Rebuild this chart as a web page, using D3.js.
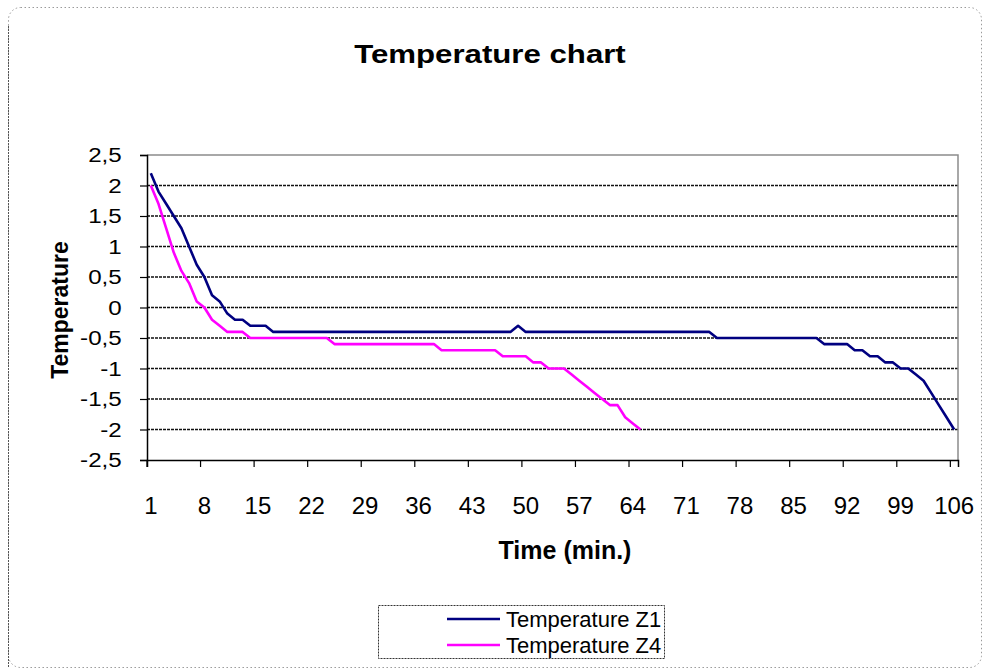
<!DOCTYPE html>
<html>
<head>
<meta charset="utf-8">
<script src="https://cdn.jsdelivr.net/npm/d3@7"></script>
<style>
  body { margin: 0; background: #fff; }
  text { font-family: "Liberation Sans", Arial, sans-serif; fill: #000; }
</style>
</head>
<body>
<div id="viz_div"></div>
<script>
// DATA
// ---------------------------------------------------------------------------------------------------------------------------------
const minutes = d3.range(1, 107);
const xTickLabels = [1, 8, 15, 22, 29, 36, 43, 50, 57, 64, 71, 78, 85, 92, 99, 106];
const yTicks = [-2.5, -2, -1.5, -1, -0.5, 0, 0.5, 1, 1.5, 2, 2.5];

const tempZ1 = [
  2.2, 1.9, 1.7, 1.5, 1.3, 1.0, 0.7, 0.5, 0.2, 0.1,
  -0.1, -0.2, -0.2, -0.3, -0.3, -0.3, -0.4, -0.4, -0.4, -0.4,
  -0.4, -0.4, -0.4, -0.4, -0.4, -0.4, -0.4, -0.4, -0.4, -0.4,
  -0.4, -0.4, -0.4, -0.4, -0.4, -0.4, -0.4, -0.4, -0.4, -0.4,
  -0.4, -0.4, -0.4, -0.4, -0.4, -0.4, -0.4, -0.4, -0.3, -0.4,
  -0.4, -0.4, -0.4, -0.4, -0.4, -0.4, -0.4, -0.4, -0.4, -0.4,
  -0.4, -0.4, -0.4, -0.4, -0.4, -0.4, -0.4, -0.4, -0.4, -0.4,
  -0.4, -0.4, -0.4, -0.4, -0.5, -0.5, -0.5, -0.5, -0.5, -0.5,
  -0.5, -0.5, -0.5, -0.5, -0.5, -0.5, -0.5, -0.5, -0.6, -0.6,
  -0.6, -0.6, -0.7, -0.7, -0.8, -0.8, -0.9, -0.9, -1.0, -1.0,
  -1.1, -1.2, -1.4, -1.6, -1.8, -2.0
];

const tempZ4 = [
  2.0, 1.7, 1.3, 0.9, 0.6, 0.4, 0.1, 0.0, -0.2, -0.3,
  -0.4, -0.4, -0.4, -0.5, -0.5, -0.5, -0.5, -0.5, -0.5, -0.5,
  -0.5, -0.5, -0.5, -0.5, -0.6, -0.6, -0.6, -0.6, -0.6, -0.6,
  -0.6, -0.6, -0.6, -0.6, -0.6, -0.6, -0.6, -0.6, -0.7, -0.7,
  -0.7, -0.7, -0.7, -0.7, -0.7, -0.7, -0.8, -0.8, -0.8, -0.8,
  -0.9, -0.9, -1.0, -1.0, -1.0, -1.1, -1.2, -1.3, -1.4, -1.5,
  -1.6, -1.6, -1.8, -1.9, -2.0
];

const seriesNames = ["Temperature Z1", "Temperature Z4"];
const seriesColors = ["#000080", "#ff00ff"];

// SCALES
// ---------------------------------------------------------------------------------------------------------------------------------
const plot = { left: 147, right: 958, top: 155, bottom: 460 };

const x = d3.scaleBand()
  .domain(minutes)
  .range([plot.left, plot.right])
  .padding(0);
const bw = x.bandwidth();

const y = d3.scaleLinear([-2.5, 2.5], [plot.bottom, plot.top]);

const svg = d3.select("#viz_div")
  .append("svg")
  .attr("width", 984)
  .attr("height", 670);

// OUTER FRAME
// ---------------------------------------------------------------------------------------------------------------------------------
svg.append("rect")
  .attr("x", 8.5).attr("y", 7.5)
  .attr("width", 973).attr("height", 660)
  .attr("rx", 12)
  .attr("fill", "#fff")
  .attr("stroke", "#9a9a9a")
  .attr("stroke-dasharray", "1.5,2.5");

svg.append("line")
  .attr("x1", 8.5).attr("x2", 8.5)
  .attr("y1", 26).attr("y2", 667)
  .attr("stroke", "#555")
  .attr("stroke-dasharray", "2,1");

// TITLE
// ---------------------------------------------------------------------------------------------------------------------------------
svg.append("g")
  .attr("transform", "translate(490,63)")
  .append("text")
  .attr("text-anchor", "middle")
  .attr("transform", "scale(1.2,1)")
  .style("font-size", "26px")
  .style("font-weight", "bold")
  .text("Temperature chart");

// GRIDLINES AND PLOT BORDER
// ---------------------------------------------------------------------------------------------------------------------------------
svg.append("g")
  .selectAll("line")
  .data(yTicks.filter(d => d > -2.5 && d < 2.5))
  .enter().append("line")
  .attr("x1", plot.left).attr("x2", plot.right)
  .attr("y1", d => y(d)).attr("y2", d => y(d))
  .attr("stroke", "#111")
  .attr("stroke-width", 1.5)
  .attr("stroke-dasharray", "3,1");

svg.append("path")
  .attr("d", `M${plot.left},${plot.top}H${plot.right}V${plot.bottom}`)
  .attr("fill", "none")
  .attr("stroke", "#8c8c8c")
  .attr("stroke-width", 1.5);

// AXES
// ---------------------------------------------------------------------------------------------------------------------------------
const yAxis = svg.append("g")
  .attr("transform", `translate(${plot.left},0)`)
  .call(d3.axisLeft(y).tickValues(yTicks).tickSize(7).tickPadding(15)
    .tickFormat(d => String(d).replace(".", ",")));
yAxis.selectAll("text")
  .attr("transform", "scale(1.15,1)")
  .style("font-size", "21px");

const xAxis = svg.append("g")
  .attr("transform", `translate(0,${plot.bottom})`)
  .call(d3.axisBottom(x).tickValues(xTickLabels).tickSize(7).tickPadding(30));
xAxis.selectAll(".tick line")
  .attr("x1", -bw / 2).attr("x2", -bw / 2);
xAxis.selectAll("text")
  .style("font-size", "24px");

svg.selectAll(".domain").attr("stroke", "#000").attr("stroke-width", 1.5);
svg.selectAll(".tick line").attr("stroke", "#000").attr("stroke-width", 1.2);

// LINES
// ---------------------------------------------------------------------------------------------------------------------------------
const line = d3.line()
  .x((d, i) => x(minutes[i]) + bw / 2)
  .y(d => y(d));

[tempZ1, tempZ4].forEach((values, k) => {
  svg.append("path")
    .datum(values)
    .attr("fill", "none")
    .attr("stroke", seriesColors[k])
    .attr("stroke-width", 2.6)
    .attr("stroke-linejoin", "round")
    .attr("d", line);
});

// AXIS TITLES
// ---------------------------------------------------------------------------------------------------------------------------------
svg.append("text")
  .attr("text-anchor", "middle")
  .attr("x", 565)
  .attr("y", 559)
  .style("font-size", "25px")
  .style("font-weight", "bold")
  .text("Time (min.)");

svg.append("text")
  .attr("text-anchor", "middle")
  .attr("transform", "translate(68,310) rotate(-90)")
  .style("font-size", "23px")
  .style("font-weight", "bold")
  .text("Temperature");

// LEGEND
// ---------------------------------------------------------------------------------------------------------------------------------
const legend = svg.append("g");

legend.append("rect")
  .attr("x", 378.5).attr("y", 605.5)
  .attr("width", 286).attr("height", 53)
  .attr("fill", "#fff")
  .attr("stroke", "#333")
  .attr("stroke-dasharray", "2,1");

legend.selectAll("line")
  .data(seriesNames)
  .enter().append("line")
  .attr("x1", 447).attr("x2", 500)
  .attr("y1", (d, i) => 619 + i * 26)
  .attr("y2", (d, i) => 619 + i * 26)
  .attr("stroke", (d, i) => seriesColors[i])
  .attr("stroke-width", 2.6);

legend.selectAll("text")
  .data(seriesNames)
  .enter().append("text")
  .attr("x", 506)
  .attr("y", (d, i) => 627 + i * 26)
  .style("font-size", "22px")
  .text(d => d);
</script>
</body>
</html>
